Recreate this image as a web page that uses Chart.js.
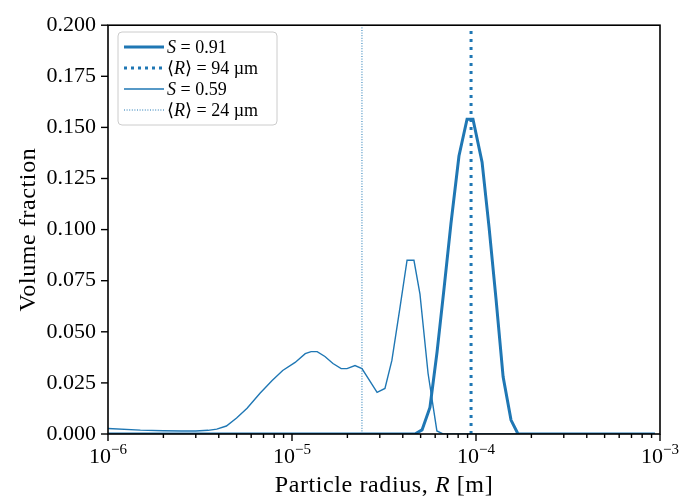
<!DOCTYPE html>
<html>
<head>
<meta charset="utf-8">
<script src="https://cdn.jsdelivr.net/npm/chart.js@4/dist/chart.umd.min.js"></script>
<style>
  html, body { margin: 0; padding: 0; background: #fff; }
</style>
</head>
<body>
<canvas id="chart" width="683" height="499"></canvas>
<script>
const blue = '#1f77b4';
const serif = "'Liberation Serif', 'DejaVu Serif', serif";

// S = 0.91 size distribution, radius in micrometres
const s091Radius = [1, 46.6, 50.9, 56.2, 61.4, 67.0, 73.1, 80.8, 89.4, 96.3, 107.9, 117.8, 128.5, 140.4, 155.0, 169.2, 939];
const s091Frac = [0, 0, 0.002, 0.013, 0.040, 0.071, 0.103, 0.136, 0.154, 0.154, 0.133, 0.101, 0.066, 0.028, 0.0068, 0, 0];

// S = 0.59 size distribution, radius in micrometres
const s059Radius = [1.0, 1.5, 2.0, 2.5, 3.0, 3.5, 3.9, 4.4, 5.0, 5.7, 6.7, 7.8, 8.9, 10.4, 11.8, 12.7, 13.7, 15.1, 16.7, 18.5, 19.9, 22.0, 24.0, 29.0, 32.0, 34.9, 38.6, 42.2, 46.0, 49.6, 54.9, 61.3, 66.2, 939];
const s059Frac = [0.0027, 0.0019, 0.0016, 0.0015, 0.0015, 0.0018, 0.0024, 0.0039, 0.0078, 0.0126, 0.0199, 0.0262, 0.0311, 0.035, 0.0393, 0.0403, 0.0403, 0.0379, 0.0345, 0.032, 0.032, 0.0335, 0.032, 0.0204, 0.0223, 0.036, 0.0617, 0.085, 0.085, 0.0684, 0.0296, 0.0015, 0, 0];

// mean radii in micrometres: [S=0.91, S=0.59]
const meanRadius = [94, 24];

const xMajorTicks = [1e-6, 1e-5, 1e-4, 1e-3];
const xMajorExp = ['\u22126', '\u22125', '\u22124', '\u22123'];
const xMinorMult = [2, 3, 4, 5, 6, 7, 8, 9];
const yTicks = [0, 0.025, 0.05, 0.075, 0.1, 0.125, 0.15, 0.175, 0.2];

const toPoints = (rs, fs) => rs.map((r, i) => ({x: r * 1e-6, y: fs[i]}));
const vline = r => [{x: r * 1e-6, y: 0}, {x: r * 1e-6, y: 0.2}];

// draw a run of text pieces with different fonts
function richText(ctx, parts, x, y, align) {
  let w = 0;
  parts.forEach(p => { ctx.font = p[1]; w += ctx.measureText(p[0]).width; });
  let cx = align === 'center' ? x - w / 2 : x;
  parts.forEach(p => {
    ctx.font = p[1];
    ctx.fillText(p[0], cx, y + (p[2] || 0));
    cx += ctx.measureText(p[0]).width;
  });
}

const legendItems = [
  {width: 3, dash: [], text: [['S', 'italic 18px ' + serif], [' = 0.91', '18px ' + serif]]},
  {width: 3, dash: [3, 4], text: [['\u27E8', '18px ' + serif], ['R', 'italic 18px ' + serif], ['\u27E9 = 94 \u00B5m', '18px ' + serif]]},
  {width: 1.4, dash: [], text: [['S', 'italic 18px ' + serif], [' = 0.59', '18px ' + serif]]},
  {width: 1, dash: [1, 1.6], text: [['\u27E8', '18px ' + serif], ['R', 'italic 18px ' + serif], ['\u27E9 = 24 \u00B5m', '18px ' + serif]]}
];

const decor = {
  id: 'decor',
  afterDraw(chart) {
    const {ctx, chartArea: a, scales: {x, y}} = chart;
    ctx.save();
    ctx.strokeStyle = '#000';
    ctx.fillStyle = '#000';

    // x ticks
    ctx.lineWidth = 1.4;
    xMajorTicks.forEach((v, i) => {
      const px = x.getPixelForValue(v);
      ctx.beginPath(); ctx.moveTo(px, a.bottom); ctx.lineTo(px, a.bottom + 7); ctx.stroke();
      if (i < xMajorTicks.length - 1) {
        xMinorMult.forEach(m => {
          const mx = x.getPixelForValue(v * m);
          ctx.beginPath(); ctx.moveTo(mx, a.bottom); ctx.lineTo(mx, a.bottom + 4); ctx.stroke();
        });
      }
      ctx.textBaseline = 'alphabetic';
      richText(ctx, [['10', '22px ' + serif], [xMajorExp[i], '15px ' + serif, -9]], px, a.bottom + 29, 'center');
    });

    // y ticks
    yTicks.forEach(v => {
      const py = y.getPixelForValue(v);
      ctx.beginPath(); ctx.moveTo(a.left, py); ctx.lineTo(a.left - 7, py); ctx.stroke();
    });

    // frame
    ctx.lineWidth = 1.6;
    ctx.strokeRect(a.left, a.top, a.right - a.left, a.bottom - a.top);

    // axis titles
    ctx.textBaseline = 'alphabetic';
    ctx.letterSpacing = '0.6px';
    richText(ctx, [['Particle radius, ', '24px ' + serif], ['R', 'italic 24px ' + serif], [' [m]', '24px ' + serif]],
      (a.left + a.right) / 2, 492, 'center');
    ctx.save();
    ctx.translate(35, (a.top + a.bottom) / 2);
    ctx.rotate(-Math.PI / 2);
    ctx.font = '24px ' + serif;
    ctx.textAlign = 'center';
    ctx.fillText('Volume fraction', 0, 0);
    ctx.restore();
    ctx.letterSpacing = '0px';

    // legend
    const bx = 118, by = 32, bw = 159, bh = 93;
    ctx.beginPath();
    ctx.roundRect(bx, by, bw, bh, 4);
    ctx.fillStyle = 'rgba(255,255,255,0.8)';
    ctx.fill();
    ctx.strokeStyle = '#cccccc';
    ctx.lineWidth = 1;
    ctx.stroke();
    legendItems.forEach((it, i) => {
      const cy = 47 + i * 21;
      ctx.strokeStyle = blue;
      ctx.lineWidth = it.width;
      ctx.setLineDash(it.dash);
      ctx.beginPath(); ctx.moveTo(124, cy); ctx.lineTo(164, cy); ctx.stroke();
      ctx.setLineDash([]);
      ctx.fillStyle = '#000';
      richText(ctx, it.text, 167, cy + 6, 'left');
    });
    ctx.restore();
  }
};

new Chart(document.getElementById('chart'), {
  type: 'line',
  data: {
    datasets: [
      {data: toPoints(s091Radius, s091Frac), borderColor: blue, borderWidth: 3},
      {data: vline(meanRadius[0]), borderColor: blue, borderWidth: 3, borderDash: [3, 5], borderCapStyle: 'butt'},
      {data: toPoints(s059Radius, s059Frac), borderColor: blue, borderWidth: 1.4},
      {data: vline(meanRadius[1]), borderColor: blue, borderWidth: 1, borderDash: [1, 1.6]}
    ]
  },
  options: {
    responsive: false,
    animation: false,
    devicePixelRatio: 1,
    layout: {padding: {top: 22, right: 23, left: 0, bottom: 0}},
    elements: {point: {radius: 0}, line: {tension: 0, fill: false}},
    plugins: {legend: {display: false}, tooltip: {enabled: false}},
    scales: {
      x: {
        type: 'logarithmic',
        min: 1e-6,
        max: 1e-3,
        grid: {display: false, drawTicks: false},
        border: {display: false},
        ticks: {display: false},
        afterFit: s => { s.height = 65; }
      },
      y: {
        min: 0,
        max: 0.2,
        grid: {display: false, drawTicks: false},
        border: {display: false},
        afterBuildTicks: s => { s.ticks = yTicks.map(v => ({value: v})); },
        ticks: {
          color: '#000',
          padding: 12,
          font: {family: serif, size: 22},
          callback: v => v.toFixed(3)
        },
        afterFit: s => { s.width = 108; }
      }
    }
  },
  plugins: [decor]
});
</script>
</body>
</html>
